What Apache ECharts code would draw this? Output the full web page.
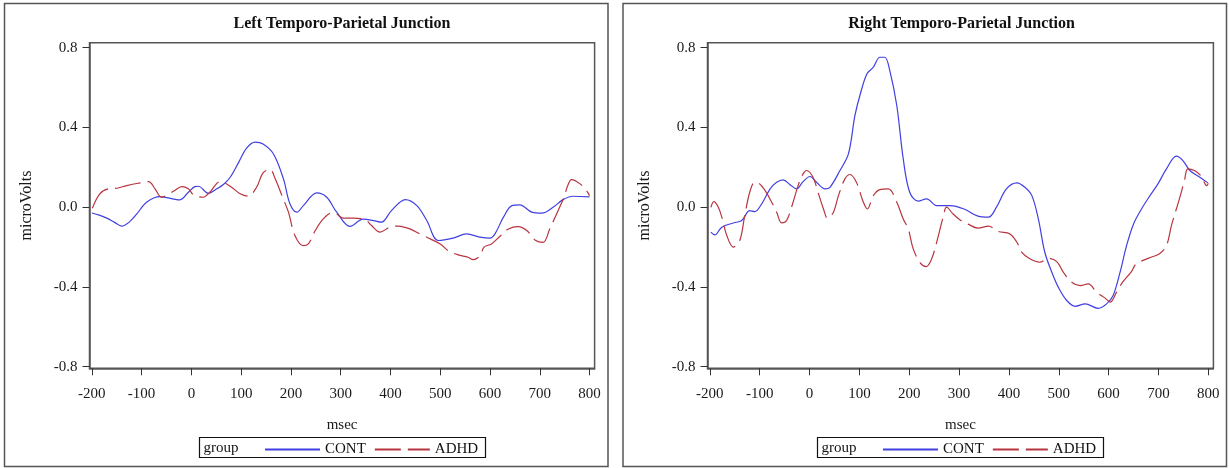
<!DOCTYPE html>
<html>
<head>
<meta charset="utf-8">
<script src="https://cdn.jsdelivr.net/npm/echarts@6/dist/echarts.min.js"></script>
<style>
html,body{margin:0;padding:0;background:#fff;}
#chart{width:1229px;height:468px;}
</style>
</head>
<body>
<div id="chart"></div>
<script>
// ---- data (msec, microVolts) ----
const panelTitles = ['Left Temporo-Parietal Junction', 'Right Temporo-Parietal Junction'];
const seriesNames = ['CONT', 'ADHD'];
const xTicks = [-200, -100, 0, 100, 200, 300, 400, 500, 600, 700, 800];
const yTicks = [-0.8, -0.4, 0.0, 0.4, 0.8];

const leftCONT = [[-200,-0.029],[-185,-0.04],[-170,-0.055],[-155,-0.075],[-140,-0.095],[-125,-0.075],[-110,-0.035],[-90,0.025],[-63,0.053],[-50,0.048],[-23,0.037],[-6,0.075],[7,0.103],[14,0.105],[34,0.07],[51,0.092],[65,0.115],[78,0.15],[95,0.225],[111,0.296],[128,0.326],[144,0.317],[165,0.267],[185,0.142],[198,0.017],[212,-0.025],[225,0.008],[252,0.072],[272,0.05],[292,-0.025],[319,-0.096],[345,-0.06],[366,-0.067],[382,-0.075],[402,-0.017],[430,0.038],[453,0.008],[473,-0.067],[496,-0.167],[526,-0.155],[553,-0.134],[580,-0.15],[600,-0.155],[610,-0.134],[627,-0.05],[644,0.008],[660,0.012],[684,-0.025],[704,-0.03],[727,0],[747,0.038],[767,0.055],[800,0.052]];

const leftADHD = [[-199,-0.005],[-184,0.067],[-167,0.092],[-150,0.095],[-130,0.108],[-107,0.12],[-86,0.128],[-73,0.092],[-60,0.05],[-36,0.08],[-19,0.103],[-6,0.092],[4,0.063],[24,0.05],[37,0.075],[58,0.128],[78,0.105],[98,0.067],[114,0.055],[131,0.1],[144,0.172],[158,0.189],[168,0.145],[182,0.058],[195,-0.025],[208,-0.142],[225,-0.193],[235,-0.184],[249,-0.117],[265,-0.059],[282,-0.029],[292,-0.034],[305,-0.055],[325,-0.055],[349,-0.062],[362,-0.092],[379,-0.125],[399,-0.1],[416,-0.095],[439,-0.109],[459,-0.134],[480,-0.159],[500,-0.184],[516,-0.218],[536,-0.239],[556,-0.251],[566,-0.263],[580,-0.243],[588,-0.2],[603,-0.184],[620,-0.146],[637,-0.109],[657,-0.097],[674,-0.117],[692,-0.167],[707,-0.176],[720,-0.109],[737,-0.017],[750,0.058],[755,0.1],[764,0.138],[781,0.117],[794,0.083],[800,0.058]];

const rightCONT = [[-198,-0.125],[-190,-0.139],[-176,-0.1],[-153,-0.079],[-136,-0.067],[-120,-0.017],[-110,-0.022],[-96,0.017],[-79,0.092],[-66,0.125],[-53,0.137],[-39,0.113],[-26,0.092],[-13,0.128],[1,0.154],[14,0.125],[31,0.092],[41,0.1],[61,0.184],[78,0.267],[91,0.459],[101,0.56],[115,0.668],[128,0.702],[141,0.752],[151,0.752],[161,0.685],[175,0.51],[188,0.242],[201,0.075],[218,0.03],[235,0.042],[255,0.008],[282,0.008],[310,-0.009],[338,-0.045],[359,-0.05],[375,0],[395,0.092],[416,0.122],[432,0.1],[446,0.058],[459,-0.059],[472,-0.226],[486,-0.326],[499,-0.401],[516,-0.468],[533,-0.497],[553,-0.485],[579,-0.507],[596,-0.485],[609,-0.443],[623,-0.326],[636,-0.193],[650,-0.084],[666,-0.009],[683,0.058],[699,0.117],[716,0.192],[736,0.256],[749,0.234],[763,0.184],[783,0.15],[799,0.122]];

const rightADHD = [[-198,0],[-192,0.028],[-183,0],[-176,-0.05],[-166,-0.142],[-153,-0.2],[-140,-0.167],[-130,-0.042],[-120,0.075],[-110,0.125],[-103,0.122],[-89,0.083],[-76,0.025],[-66,-0.025],[-56,-0.079],[-46,-0.067],[-33,0.025],[-23,0.108],[-13,0.167],[-6,0.184],[7,0.15],[17,0.075],[28,-0.009],[36,-0.055],[48,-0.025],[58,0.058],[71,0.142],[81,0.164],[94,0.125],[108,0.025],[116,-0.009],[128,0.058],[141,0.088],[158,0.092],[175,0.025],[188,-0.059],[198,-0.109],[208,-0.209],[222,-0.279],[234,-0.298],[245,-0.259],[255,-0.176],[268,-0.05],[275,0],[288,-0.034],[302,-0.064],[318,-0.085],[338,-0.105],[359,-0.095],[379,-0.122],[402,-0.134],[416,-0.176],[426,-0.226],[442,-0.259],[462,-0.276],[479,-0.256],[496,-0.273],[509,-0.326],[526,-0.376],[543,-0.393],[559,-0.385],[576,-0.426],[593,-0.456],[603,-0.476],[616,-0.426],[628,-0.376],[645,-0.326],[655,-0.284],[668,-0.268],[685,-0.251],[702,-0.234],[716,-0.193],[726,-0.092],[742,0.042],[752,0.133],[759,0.192],[772,0.184],[785,0.158],[797,0.108],[800,0.12]];

// ---- styling / layout ----
const FONT = '"Liberation Serif", "Times New Roman", serif';
const BLUE = '#4040e2';
const RED = '#b8343f';

const chart = echarts.init(document.getElementById('chart'), null, {renderer: 'canvas'});

function xAxisCfg(gridIndex) {
  return {
    gridIndex, type: 'value', min: -204.7, max: 810.2,
    axisLine: {show: true, onZero: false, lineStyle: {color: '#555', width: 1.5}},
    axisTick: {show: true, length: 7, customValues: xTicks, lineStyle: {color: '#333', width: 1}},
    axisLabel: {customValues: xTicks, margin: 18, fontSize: 15, fontFamily: FONT, color: '#1a1a1a'},
    splitLine: {show: false},
    name: 'msec', nameLocation: 'middle', nameGap: 49,
    nameTextStyle: {fontSize: 15, fontFamily: FONT, color: '#1a1a1a'}
  };
}
function yAxisCfg(gridIndex) {
  return {
    gridIndex, type: 'value', min: -0.808, max: 0.825,
    axisLine: {show: true, onZero: false, lineStyle: {color: '#555', width: 1.5}},
    axisTick: {show: true, length: 7, customValues: yTicks, lineStyle: {color: '#333', width: 1}},
    axisLabel: {customValues: yTicks, margin: 12, fontSize: 15, fontFamily: FONT, color: '#1a1a1a',
      formatter: v => Number(v).toFixed(1)},
    splitLine: {show: false},
    name: 'microVolts', nameLocation: 'middle', nameGap: 55, nameRotate: 90,
    nameTextStyle: {fontSize: 16, fontFamily: FONT, color: '#1a1a1a'}
  };
}
function lineSeries(name, data, idx) {
  const isCont = name === 'CONT';
  return {
    name, type: 'line', data, xAxisIndex: idx, yAxisIndex: idx,
    symbol: 'none', showSymbol: false, smooth: 0.35, silent: true,
    lineStyle: {color: isCont ? BLUE : RED, width: 1.2, type: isCont ? 'solid' : [26, 7]},
    itemStyle: {color: isCont ? BLUE : RED}
  };
}
function legendCfg(left) {
  return {
    left, top: 437, itemWidth: 55, itemHeight: 14, itemGap: 8, selectedMode: false,
    data: seriesNames,
    itemStyle: {opacity: 0},
    textStyle: {fontSize: 15, fontFamily: FONT, color: '#111'}
  };
}
function panelGraphics(x0, titleX, legendBoxX, titleIdx) {
  return [
    {type: 'rect', shape: {x: x0, y: 3.5, width: 603.5, height: 463}, style: {fill: 'none', stroke: '#555', lineWidth: 1.5}, silent: true},
    {type: 'text', x: titleX, y: 24, style: {text: panelTitles[titleIdx], align: 'center', verticalAlign: 'middle',
      fontSize: 16, fontWeight: 'bold', fontFamily: FONT, fill: '#111'}},
    {type: 'rect', shape: {x: legendBoxX, y: 437.5, width: 286, height: 20}, style: {fill: 'none', stroke: '#111', lineWidth: 1.2}, silent: true},
    {type: 'text', x: legendBoxX + 4, y: 448.5, style: {text: 'group', align: 'left', verticalAlign: 'middle',
      fontSize: 15, fontFamily: FONT, fill: '#111'}}
  ];
}

const option = {
  animation: false,
  backgroundColor: '#fff',
  grid: [
    {left: 89.5, top: 42.7, width: 505.1, height: 325.6, show: true, borderColor: '#555', borderWidth: 1.5, backgroundColor: 'transparent'},
    {left: 707.5, top: 42.7, width: 505.9, height: 325.6, show: true, borderColor: '#555', borderWidth: 1.5, backgroundColor: 'transparent'}
  ],
  xAxis: [xAxisCfg(0), xAxisCfg(1)],
  yAxis: [yAxisCfg(0), yAxisCfg(1)],
  legend: [legendCfg(259), legendCfg(877)],
  series: [
    lineSeries('CONT', leftCONT, 0),
    lineSeries('ADHD', leftADHD, 0),
    lineSeries('CONT', rightCONT, 1),
    lineSeries('ADHD', rightADHD, 1)
  ],
  graphic: [].concat(panelGraphics(4.5, 342, 199.5, 0), panelGraphics(623, 961.6, 817.5, 1))
};
chart.setOption(option);
</script>
</body>
</html>
